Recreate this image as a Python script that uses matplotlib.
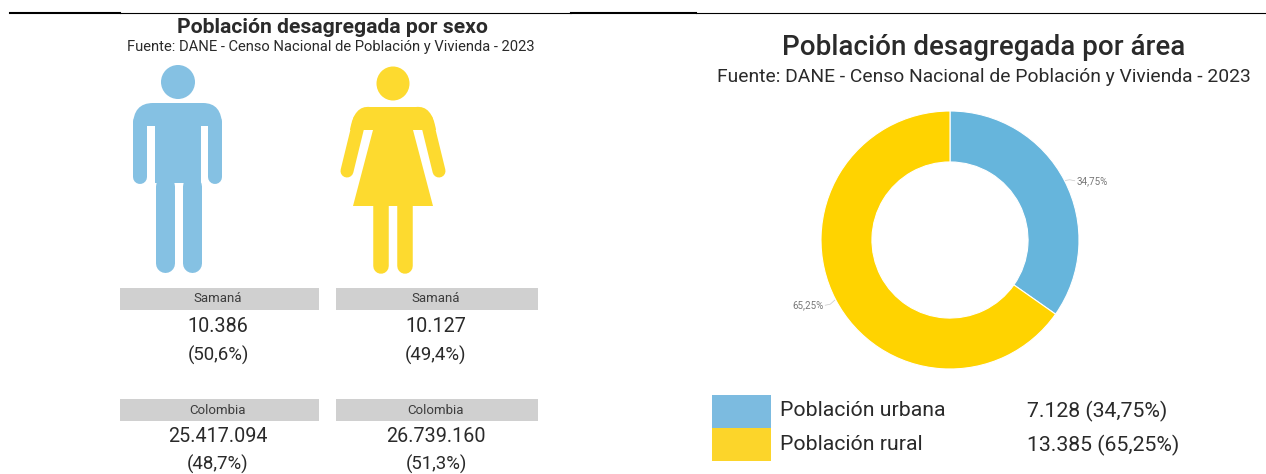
import numpy as np
import matplotlib
matplotlib.use('Agg')
from matplotlib import pyplot as plt
from matplotlib.patches import Ellipse, Rectangle, PathPatch
from matplotlib.path import Path

plt.rcParams['font.family'] = ['Roboto', 'DejaVu Sans']

# Data
place_labels = ['Samaná', 'Colombia']
men_values = ['10.386', '25.417.094']
men_shares = ['(50,6%)', '(48,7%)']
women_values = ['10.127', '26.739.160']
women_shares = ['(49,4%)', '(51,3%)']
area_labels = ['Población urbana', 'Población rural']
area_values = [7128, 13385]
area_shares = ['34,75%', '65,25%']
area_texts = ['7.128 (34,75%)', '13.385 (65,25%)']

W, H = 1266, 474
BLUE_ICON, YELLOW_ICON = '#85C1E3', '#FDDA2F'
BLUE, YELLOW = '#66B5DC', '#FFD300'
BLUE_KEY, YELLOW_KEY = '#7CBBE0', '#FCD52A'
GREY = '#D0D0D0'
DARK = '#2A2A2A'

fig = plt.figure(figsize=(W/100, H/100), dpi=100)
# one full-figure axes in pixel units for the layout
bg = fig.add_axes([0, 0, 1, 1])
bg.set_xlim(0, W)
bg.set_ylim(H, 0)
bg.axis('off')

def px(width):
    return width*72/100

def stroke(x, y, width, color):
    bg.plot(x, y, color=color, lw=px(width), solid_capstyle='round')

def shape(verts, codes, color):
    bg.add_patch(PathPatch(Path(verts, codes), fc=color, ec='none'))

M, L, C = Path.MOVETO, Path.LINETO, Path.CURVE3

# Top rules
bg.plot([120, 571], [12.5, 12.5], color='black', lw=0.8)
bg.plot([696, 1266], [12.5, 12.5], color='black', lw=0.8)
bg.plot([10, 120], [12.5, 12.5], color='black', lw=1.5)
bg.plot([571, 696], [12.5, 12.5], color='black', lw=1.5)

# Man icon
bg.add_patch(Ellipse((178, 82), 34, 34, fc=BLUE_ICON, ec='none'))
shape([(133, 126), (133, 103), (153, 103), (203, 103), (222, 103), (222, 126),
       (133, 126)], [M, C, C, L, C, C, L], BLUE_ICON)
bg.add_patch(Rectangle((155, 110), 46, 73, fc=BLUE_ICON, ec='none'))
stroke([140, 140], [122, 177], 14, BLUE_ICON)
stroke([215, 215], [122, 177], 14, BLUE_ICON)
stroke([164.5, 164.5], [186, 263], 19, BLUE_ICON)
stroke([191.5, 191.5], [186, 263], 19, BLUE_ICON)

# Woman icon
bg.add_patch(Ellipse((393, 83.5), 33, 34, fc=YELLOW_ICON, ec='none'))
shape([(350, 130), (354, 105), (370, 107), (416, 107), (432, 105), (436, 130),
       (413, 130), (433, 206), (353, 206), (373, 130), (350, 130)],
      [M, C, C, L, C, C, L, L, L, L, L], YELLOW_ICON)
stroke([359.5, 347], [120, 171], 13, YELLOW_ICON)
stroke([426.5, 439], [120, 171], 13, YELLOW_ICON)
stroke([380.7, 380.7], [200, 266], 15.5, YELLOW_ICON)
stroke([405.2, 405.2], [200, 266], 15.5, YELLOW_ICON)

# Left panel titles
bg.text(332, 27, 'Población desagregada por sexo', ha='center', va='center',
        fontsize=15.2, fontweight='bold', color=DARK)
bg.text(331, 46.5, 'Fuente: DANE - Censo Nacional de Población y Vivienda - 2023',
        ha='center', va='center', fontsize=10.6, color=DARK)

# Tables under the icons
rows_y = [288, 399]
shares_y = [355.5, 464]  # bottom row sits right on the picture edge
for i in range(2):
    y = rows_y[i]
    for x0, x1, xc, values, shares in [(120, 319, 218, men_values, men_shares),
                                       (335.5, 537.5, 436, women_values, women_shares)]:
        bg.add_patch(Rectangle((x0, y), x1-x0, 22, fc=GREY, ec='none'))
        bg.text(xc, y+11, place_labels[i], ha='center', va='center', fontsize=9.5, color='#3C3C3C')
        bg.text(xc, y+38, values[i], ha='center', va='center', fontsize=14.2, color=DARK)
        bg.text(xc, shares_y[i], shares[i], ha='center', va='center', fontsize=13.4, color=DARK)

# Right panel titles
bg.text(984, 47.5, 'Población desagregada por área', ha='center', va='center',
        fontsize=20, fontweight='medium', color=DARK)
bg.text(984, 77, 'Fuente: DANE - Censo Nacional de Población y Vivienda - 2023',
        ha='center', va='center', fontsize=13.9, color=DARK)

# Donut
cx, cy, r = 950, 240, 129
ax = fig.add_axes([(cx-r)/W, 1-(cy+r)/H, 2*r/W, 2*r/H])
ax.pie(area_values, colors=[BLUE, YELLOW], startangle=90, counterclock=False, radius=1,
       wedgeprops=dict(width=0.395, edgecolor='white', linewidth=0.8))
ax.set_xlim(-1, 1)
ax.set_ylim(-1, 1)

# Small percentage labels with leader lines, placed from the slice mid angles
fractions = np.array(area_values)/sum(area_values)
mids = 90-360*(np.cumsum(fractions)-fractions/2)
for i in range(2):
    a = np.radians(mids[i])
    x1, y1 = cx+r*np.cos(a), cy-r*np.sin(a)
    x2, y2 = cx+(r+6)*np.cos(a), cy-(r+6)*np.sin(a)
    side = 1 if np.cos(a) > 0 else -1
    bg.plot([x1, x2, x2+side*5], [y1, y2+2, y2+3], color='#C8C8C8', lw=0.5, zorder=0)
    bg.text(x2+side*7, y2+3, area_shares[i], ha='left' if side > 0 else 'right', va='center',
            fontsize=7, color='#777777')

# Legend
bg.add_patch(Rectangle((712, 394.5), 59, 33, fc=BLUE_KEY, ec='none'))
bg.add_patch(Rectangle((712, 427.5), 59, 33.5, fc=YELLOW_KEY, ec='none'))
for i, y in enumerate([411, 445]):
    bg.text(780, y, area_labels[i], ha='left', va='center', fontsize=15.3, color=DARK)
    bg.text(1027, y, area_texts[i], ha='left', va='center', fontsize=15.3, color=DARK)

fig.savefig('out.png', dpi=100)
